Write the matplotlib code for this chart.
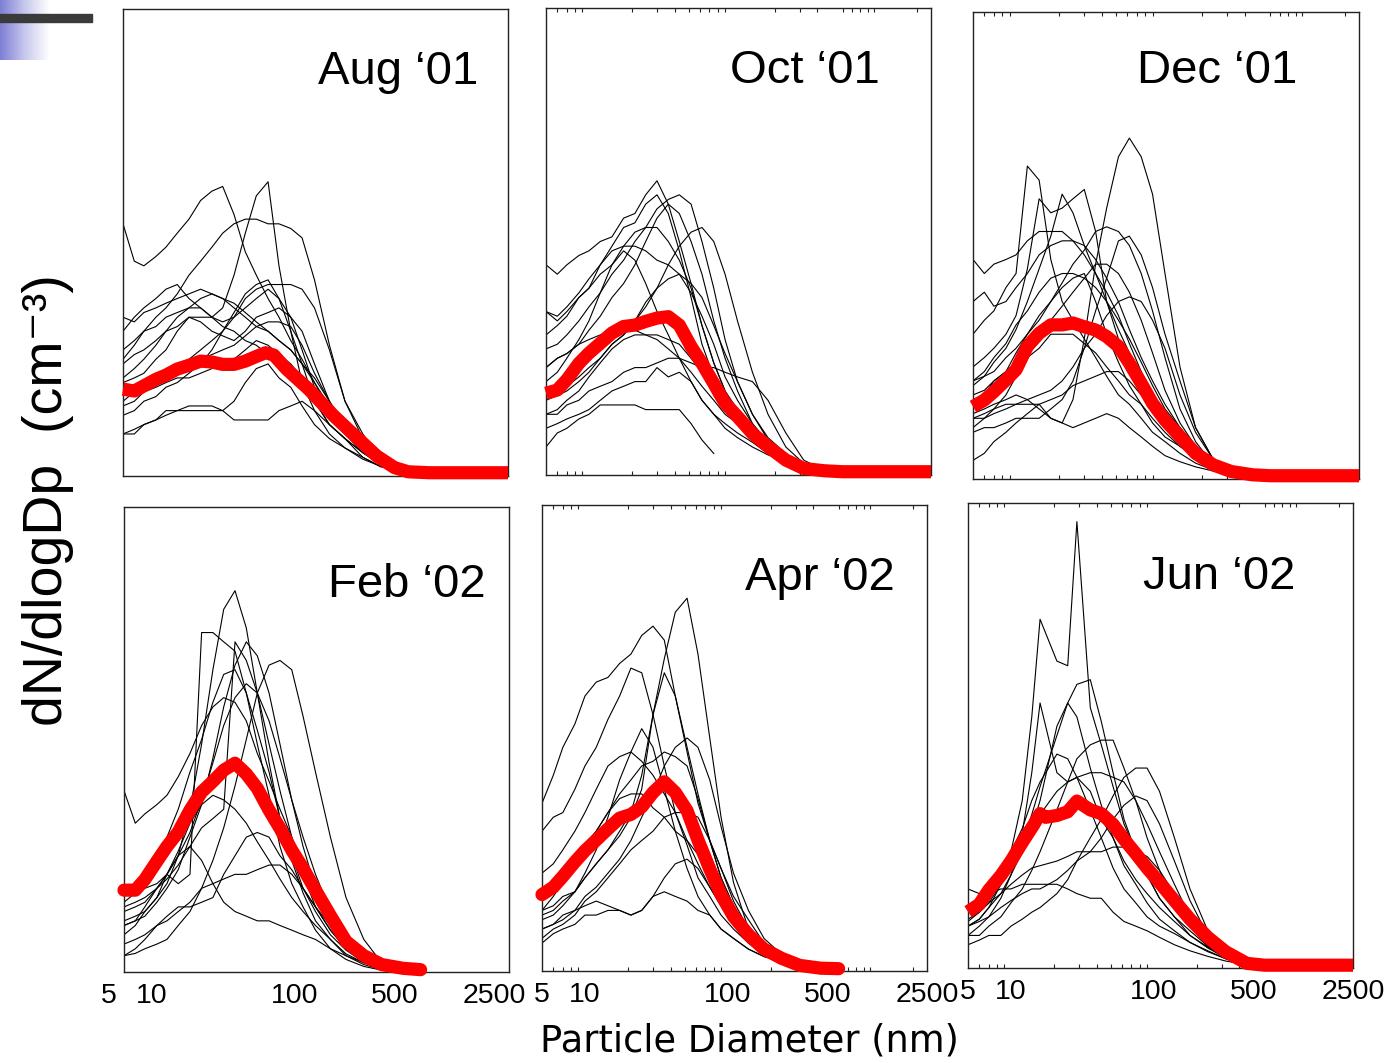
import numpy as np
import matplotlib.pyplot as plt
from matplotlib.patches import Rectangle
from matplotlib.ticker import LogLocator, NullFormatter, FixedLocator
from matplotlib.transforms import ScaledTranslation

# particle diameter bins (nm) of the single scans
d_bins = [5, 6, 7, 8.5, 10, 12, 14.5, 17.5, 21, 25, 30, 36, 43, 52, 62, 75, 90, 110, 140, 180, 240, 320, 450]
d_bins_jun = [5, 6, 7, 8.5, 10, 12, 14, 16, 21, 25, 29, 36, 43, 52, 62, 75, 90, 110, 140, 180, 240, 320, 450]

# ---- Aug '01
aug_scans = [
    [54, 46, 45, 47, 49, 52, 55, 59, 61, 62, 56, 48, 43, 38, 34, 29, 25, 20, 14, 9, 6, 3, 1.4],
    [20, 21, 22, 25, 27, 31, 34, 34, 34, 36, 43, 52, 60, 63, 45, 31, 20, 14, 9, 6, 4, 2, 1.1],
    [25, 28, 31, 34, 36, 39, 43, 46, 49, 52, 54, 55, 55, 54, 54, 53, 51, 42, 28, 16, 8, 3, 1.3],
    [31, 34, 36, 38, 40, 41, 38, 36, 34, 33, 34, 36, 38, 40, 38, 34, 27, 19, 13, 9, 5, 2.5, 1.3],
    [16, 18, 19, 21, 22, 24, 25, 27, 29, 31, 35, 39, 41, 42, 38, 31, 24, 16, 11, 8, 4, 2, 1.1],
    [13, 14, 16, 17, 19, 20, 22, 24, 27, 31, 34, 38, 40, 41, 41, 41, 40, 36, 27, 16, 9, 3.6, 1.4],
    [9, 10, 11, 12, 13, 14, 14, 14, 14, 14, 12, 12, 12, 12, 14, 15, 16, 14, 11, 8, 5, 2.5, 1.3],
    [9, 9, 11, 12, 14, 14, 15, 15, 15, 14, 16, 20, 23, 24, 21, 19, 15, 11, 8, 6, 3.6, 2.1, 1.1],
    [27, 29, 31, 32, 34, 35, 36, 36, 34, 32, 31, 29, 28, 26, 25, 23, 20, 16, 11, 8, 5, 2.5, 1.3],
    [24, 26, 27, 29, 31, 32, 34, 33, 31, 30, 29, 31, 34, 35, 36, 34, 31, 24, 16, 10, 6, 2.7, 1.3],
    [15, 16, 18, 19, 20, 21, 21, 22, 23, 24, 25, 27, 29, 28, 26, 24, 21, 18, 14, 9, 6, 2.9, 1.4],
    [21, 23, 25, 28, 31, 34, 36, 38, 39, 38, 36, 34, 32, 31, 29, 27, 24, 20, 15, 10, 6, 3, 1.4],
    [34, 33, 35, 36, 37, 38, 39, 40, 39, 38, 37, 35, 33, 31, 29, 27, 24, 21, 16, 11, 6, 3, 1.4],
    [19, 19, 20, 21, 22, 23, 24, 25, 26, 27, 28, 30, 32, 33, 33, 32, 28, 22, 16, 10, 6, 3, 1.4],
]
aug_mean_d = [5, 6, 7, 8.5, 10, 12, 14.5, 17.5, 21, 25, 30, 36, 43, 50, 57, 70, 100, 150, 200, 300, 400, 500, 700, 1000, 2500]
aug_mean = [18.6, 18.2, 19.3, 20.7, 21.6, 22.9, 23.7, 24.6, 24.4, 23.9, 23.9, 24.6, 25.6, 26.4, 25.9, 22.9, 18.6, 12.9, 9.3, 4.3, 1.8, 0.9, 0.7, 0.7, 0.7]

# ---- Oct '01
oct_scans = [
    [45, 43, 45, 47, 48, 50, 51, 55, 56, 60, 63, 58, 50, 41, 32, 24, 18, 14, 10, 6, 3.2, 1.4, 0.7],
    [27, 28, 30, 33, 36, 39, 43, 46, 50, 53, 57, 59, 60, 58, 50, 40, 29, 20, 13, 7.5, 3.9, 1.8, 0.8],
    [16, 18, 19, 21, 23, 25, 28, 30, 33, 37, 40, 45, 49, 52, 53, 50, 43, 33, 22, 13, 6, 2.5, 0.9],
    [30, 32, 34, 38, 40, 45, 49, 53, 54, 58, 60, 56, 48, 38, 28, 21, 16, 13, 9, 6, 3.6, 1.8, 0.8],
    [23, 25, 26, 28, 31, 34, 38, 41, 45, 50, 55, 58, 56, 50, 43, 33, 25, 18, 11, 7, 3.9, 1.8, 0.8],
    [35, 34, 36, 39, 42, 45, 48, 49, 49, 48, 46, 45, 43, 39, 34, 28, 21, 16, 11, 7, 3.9, 1.8, 0.8],
    [16, 17, 18, 20, 22, 25, 28, 30, 33, 36, 40, 42, 43, 41, 38, 32, 26, 20, 13, 8, 4.6, 2.1, 0.9],
    [20, 22, 25, 29, 33, 39, 45, 48, 46, 41, 35, 30, 25, 20, 16, 13, 11, 9, 7, 4.6, 2.9, 1.4, 0.7],
    [6, 9, 10, 12, 13, 15, 15, 15, 15, 14, 14, 14, 14, 11, 7.5, 4.6],
    [10, 11, 12, 13, 14, 16, 18, 19, 20, 20, 23, 21, 22, 20, 16, 13, 10, 8, 6, 4.3, 2.9, 1.4, 0.7],
    [23, 25, 26, 28, 29, 30, 31, 32, 31, 30, 30, 29, 28, 25, 22, 19, 16, 13, 10, 7, 3.9, 1.8, 0.8],
    [13, 13, 15, 16, 18, 19, 20, 22, 23, 23, 24, 25, 25, 24, 23, 23, 22, 21, 20, 16, 9, 3.2, 0.9],
    [35, 33, 35, 38, 40, 43, 45, 49, 52, 53, 53, 50, 46, 40, 32, 24, 18, 13, 9, 6, 3.6, 1.8, 0.8],
    [13, 14, 16, 18, 21, 24, 27, 29, 30, 30, 29, 27, 25, 22, 19, 16, 13, 11, 8, 6, 3.4, 1.6, 0.8],
]
oct_mean_d = [5, 6, 7, 8.5, 10, 12, 14.5, 17.5, 21, 25, 30, 36, 43, 52, 62, 75, 82, 90, 110, 140, 180, 240, 320, 450, 600, 1000, 2500]
oct_mean = [17.5, 18.2, 20.4, 23.9, 26.1, 28.2, 30.4, 31.8, 32.1, 32.9, 33.6, 33.9, 32.1, 27.5, 23.9, 19.6, 17.5, 15.4, 12.5, 8.9, 6.1, 3.2, 1.4, 0.9, 0.7, 0.7, 0.7]

# ---- Dec '01
dec_scans = [
    [13, 13, 14, 15, 16, 16, 16, 13, 12, 17, 30, 46, 58, 69, 73, 69, 61, 44, 24, 11, 4.1, 1.2, 0.5],
    [31, 34, 36, 41, 44, 67, 64, 47, 38, 34, 30, 26, 22, 18, 16, 13, 10, 8, 5.5, 3.4, 1.9, 1.1, 0.6],
    [24, 26, 28, 31, 35, 45, 60, 57, 58, 60, 62, 53, 38, 30, 24, 19, 15, 11, 8, 5.5, 3, 1.4, 0.6],
    [21, 22, 23, 26, 28, 31, 34, 38, 42, 46, 49, 53, 54, 53, 50, 44, 36, 26, 15, 8, 3, 1.2, 0.6],
    [10, 11, 11, 12, 13, 13, 13, 15, 17, 21, 28, 36, 43, 51, 52, 48, 41, 31, 21, 11, 4.1, 1.4, 0.6],
    [47, 44, 46, 47, 48, 51, 53, 53, 53, 51, 48, 44, 40, 35, 29, 23, 18, 14, 10, 6, 3.4, 1.6, 0.7],
    [21, 23, 26, 29, 33, 36, 40, 43, 44, 44, 43, 41, 38, 34, 30, 25, 20, 15, 11, 7, 3.4, 1.6, 0.7],
    [14, 15, 16, 17, 18, 17, 15, 13, 12, 11, 12, 13, 14, 13, 11, 9, 7, 5, 3.7, 2.6, 1.7, 1.1, 0.6],
    [4, 5.5, 8, 10, 12, 14, 16, 17, 18, 20, 21, 22, 23, 23, 21, 18, 15, 11, 8, 5, 2.6, 1.4, 0.7],
    [13, 14, 15, 16, 16, 17, 18, 19, 21, 24, 28, 31, 35, 38, 39, 38, 34, 28, 18, 10, 4.1, 1.4, 0.6],
    [17, 18, 21, 23, 27, 31, 35, 38, 41, 43, 44, 38, 31, 25, 20, 16, 12, 9, 7, 4.4, 2.6, 1.4, 0.7],
    [11, 13, 15, 18, 22, 26, 28, 31, 31, 31, 29, 27, 24, 21, 18, 16, 13, 10, 7, 4.8, 2.8, 1.4, 0.7],
    [18, 19, 21, 23, 25, 28, 31, 34, 37, 40, 43, 46, 46, 44, 40, 34, 27, 19, 12, 7, 3.4, 1.4, 0.7],
    [38, 40, 37, 38, 41, 44, 48, 50, 51, 51, 50, 47, 43, 38, 32, 26, 21, 16, 11, 7, 3.4, 1.6, 0.7],
    [20, 22, 25, 28, 32, 38, 45, 52, 61, 57, 50, 44, 38, 32, 27, 22, 18, 14, 10, 6, 3.2, 1.5, 0.7],
]
dec_mean_d = [5, 6, 7, 8.5, 10, 12, 14.5, 17.5, 21, 25, 30, 36, 43, 52, 62, 75, 90, 110, 140, 180, 240, 320, 450, 600, 1000, 2500]
dec_mean = [15.5, 16.9, 18.7, 21.2, 23.4, 28.4, 31.2, 33, 33, 33.4, 32.6, 31.9, 30.5, 28.4, 24.8, 20.5, 16.2, 12.6, 9.1, 5.5, 3, 1.6, 0.9, 0.7, 0.7, 0.7]

# ---- Feb '02
feb_scans = [
    [11, 12, 13, 16, 19, 25, 35, 49, 65, 78, 82, 74, 60, 45, 33, 24, 17, 11, 7, 3.5, 1.6, 0.5, 0.2],
    [15, 17, 18, 19, 21, 19, 21, 73, 73, 71, 69, 60, 49, 38, 27, 19, 14, 9, 5, 2.7, 1.2, 0.4, 0.2],
    [3.5, 4, 5, 6, 7, 10, 13, 18, 24, 31, 40, 50, 60, 66, 67, 65, 55, 43, 29, 16, 7, 2, 0.4],
    [14, 15, 16, 18, 20, 23, 27, 31, 33, 35, 71, 67, 60, 49, 39, 29, 21, 14, 9, 5, 2.3, 0.8, 0.2],
    [10, 11, 12, 15, 18, 22, 29, 36, 46, 57, 66, 71, 68, 60, 49, 37, 27, 18, 11, 6, 2.7, 1, 0.2],
    [18, 18, 21, 24, 29, 35, 43, 50, 58, 64, 65, 60, 52, 43, 33, 25, 18, 13, 8, 4.7, 2.1, 0.8, 0.2],
    [39, 32, 34, 36, 38, 42, 47, 53, 57, 59, 58, 54, 47, 41, 35, 29, 22, 16, 11, 6, 2.7, 1, 0.2],
    [3.5, 5, 7, 10, 12, 14, 14, 15, 16, 21, 25, 29, 30, 29, 25, 22, 18, 14, 9, 5, 2.3, 0.9, 0.2],
    [10, 11, 14, 18, 21, 25, 27, 24, 19, 15, 13, 12, 11, 11, 10, 9, 8, 7, 5, 3.5, 2, 0.8, 0.2],
    [6, 7, 8, 10, 11, 13, 15, 18, 19, 20, 21, 21, 22, 23, 23, 21, 18, 14, 10, 5, 2.3, 0.9, 0.2],
    [13, 14, 15, 18, 21, 25, 30, 37, 45, 53, 59, 62, 60, 54, 46, 37, 29, 21, 13, 7, 2.9, 1, 0.2],
    [8, 10, 13, 16, 21, 26, 32, 36, 38, 37, 35, 32, 28, 24, 20, 16, 13, 10, 7, 3.9, 2, 0.8, 0.2],
]
feb_mean_d = [5, 6, 7, 8.5, 10, 12, 14.5, 17.5, 21, 25, 30, 36, 43, 52, 62, 75, 90, 110, 140, 180, 240, 320, 450, 600]
feb_mean = [17.6, 17.6, 19.9, 23.8, 27, 30.1, 34.8, 38.7, 41, 43.4, 44.9, 42.6, 39.5, 34.8, 30.9, 26.2, 22.3, 17.6, 12.1, 6.6, 3.5, 1.6, 0.8, 0.5]

# ---- Apr '02
apr_scans = [
    [12, 13, 15, 17, 20, 23, 26, 30, 34, 42, 55, 67, 77, 80, 68, 50, 33, 19, 9, 4.7, 2.3, 1.2, 0.6],
    [36, 42, 48, 53, 59, 62, 63, 66, 68, 72, 74, 71, 59, 47, 36, 28, 22, 16, 11, 6, 3.1, 1.4, 0.6],
    [30, 33, 34, 39, 44, 48, 54, 59, 65, 64, 55, 44, 34, 27, 20, 16, 12, 9, 6, 3.9, 2.3, 1.2, 0.6],
    [13, 14, 16, 17, 20, 23, 26, 29, 33, 39, 55, 64, 59, 48, 38, 28, 20, 14, 9, 5, 2.7, 1.3, 0.6],
    [9, 10, 11, 13, 16, 18, 21, 24, 28, 33, 38, 44, 48, 50, 48, 41, 31, 21, 13, 7, 3.5, 1.6, 0.7],
    [17, 18, 20, 23, 27, 30, 34, 38, 41, 44, 45, 47, 46, 44, 37, 28, 20, 14, 9, 5, 2.7, 1.3, 0.6],
    [6, 8, 9, 10, 12, 12, 13, 13, 12, 13, 16, 17, 16, 15, 13, 12, 9, 7, 4.7, 3.1, 2, 1.2, 0.6],
    [9, 10, 12, 13, 14, 15, 14, 13, 12, 13, 16, 20, 23, 24, 22, 18, 14, 10, 6, 3.5, 2, 1.2, 0.6],
    [21, 23, 26, 30, 34, 39, 44, 46, 47, 45, 42, 38, 34, 28, 23, 18, 14, 10, 7, 4.5, 2.6, 1.3, 0.6],
    [13, 16, 19, 23, 27, 30, 34, 37, 38, 38, 35, 33, 30, 28, 25, 21, 17, 12, 8, 4.8, 2.7, 1.3, 0.6],
    [11, 12, 14, 17, 21, 26, 33, 41, 47, 52, 48, 39, 30, 22, 16, 12, 9, 7, 4.7, 3.1, 2, 1.2, 0.6],
    [7, 9, 10, 12, 15, 17, 20, 23, 26, 28, 30, 33, 34, 34, 33, 28, 22, 15, 9, 4.8, 2.7, 1.3, 0.6],
]
apr_mean_d = [5, 6, 7, 8.5, 10, 12, 14.5, 17.5, 21, 25, 30, 36, 43, 52, 62, 75, 90, 110, 140, 180, 240, 320, 450, 600]
apr_mean = [16.4, 18, 20.3, 23.4, 25.8, 28.1, 30.5, 32.8, 33.6, 35.2, 38.3, 40.6, 38.3, 34.4, 28.1, 21.9, 16.4, 11.7, 7.8, 4.7, 2.7, 1.2, 0.6, 0.5]

# ---- Jun '02
jun_scans = [
    [9, 10.5, 13, 18, 25, 36, 54, 75, 66, 65, 96, 56, 48, 39, 31, 25, 20, 15, 11, 8, 4.7, 2.3, 0.8],
    [7, 9, 11, 15, 20, 29, 42, 57, 42, 40, 41, 38, 32, 28, 23, 19, 16, 13, 10, 7, 4.3, 2.2, 0.8],
    [10, 12, 14, 18, 21, 27, 33, 39, 50, 57, 61, 62, 53, 42, 32, 25, 20, 15, 11, 7, 4.5, 2.1, 0.8],
    [9, 10.5, 13, 16, 20, 25, 30, 36, 52, 57, 54, 43, 35, 28, 22, 18, 14, 10.5, 8, 5.5, 3.5, 2, 0.8],
    [7, 7, 9, 11, 14, 17, 21, 25, 34, 40, 45, 48, 49, 49, 43, 36, 28, 21, 14.5, 9, 4.7, 2, 0.8],
    [5, 6, 7, 7, 9, 10.5, 12, 13, 16, 19, 23, 28, 32, 37, 41, 43, 43, 38, 28, 17, 8, 3.1, 0.8],
    [13, 14.5, 17, 20, 23, 27, 30, 33, 38, 40, 41, 42, 42, 41, 40, 36, 31, 25, 18, 11, 6, 2.7, 0.8],
    [17, 16, 16, 17, 17, 18, 18, 18, 18, 17, 16, 15, 15, 12, 10, 9, 8, 6.6, 5, 3.7, 2.5, 1.5, 0.7],
    [9, 10, 11, 13, 14.5, 16, 17, 17, 19, 21, 23, 25, 28, 32, 35, 37, 36, 31, 23, 14.5, 7, 2.7, 0.8],
    [13, 14.5, 17, 20, 25, 30, 36, 40, 46, 45, 41, 34, 28, 21.5, 17, 14, 11, 9, 7.4, 5.5, 3.7, 2, 0.8],
    [10.5, 12, 14, 16, 18, 20, 21.5, 22, 23, 24, 25, 25, 25, 26, 26, 25, 24, 21, 16, 10.5, 6, 2.4, 0.8],
]
jun_mean_d = [5, 6, 7, 8.5, 10, 12, 14.5, 16, 17.5, 21, 25, 29, 36, 43, 52, 62, 75, 90, 110, 140, 180, 240, 320, 450, 600, 1000, 2500]
jun_mean = [12.1, 13.7, 16.8, 19.9, 23, 27, 30.9, 33.2, 32.4, 32.8, 33.6, 35.9, 34, 33.2, 30.9, 27.7, 24.6, 21.5, 18.4, 14.5, 10.5, 6.6, 3.5, 1, 0.6, 0.6, 0.6]

titles = ['Aug \u201801', 'Oct \u201801', 'Dec \u201801', 'Feb \u201802', 'Apr \u201802', 'Jun \u201802']
tick_vals = [5, 10, 100, 500, 2500]
tick_text = ['5', '10', '100', '500', '2500']

panels = [
    (d_bins, aug_scans, aug_mean_d, aug_mean),
    (d_bins, oct_scans, oct_mean_d, oct_mean),
    (d_bins, dec_scans, dec_mean_d, dec_mean),
    (d_bins, feb_scans, feb_mean_d, feb_mean),
    (d_bins, apr_scans, apr_mean_d, apr_mean),
    (d_bins_jun, jun_scans, jun_mean_d, jun_mean),
]

# layout in pixels: box (left, top, right, bottom), title (right end, baseline)
W, H = 1391, 1063
boxes = [(123, 9, 508, 476), (546, 8, 931, 475), (973, 12, 1359, 479),
         (124, 507, 509, 972), (542, 505, 927, 971), (968, 503, 1353, 968)]
title_pos = [(478, 84), (880, 83), (1297, 83), (486, 597), (895, 590), (1295, 589)]
with_ticks = [False, True, True, False, True, True]

fig = plt.figure(figsize=(W / 100, H / 100), dpi=100)

for i, (d, scans, md, mean) in enumerate(panels):
    l, t, r, b = boxes[i]
    ax = fig.add_axes([l / W, 1 - b / H, (r - l) / W, (b - t) / H])
    for s in scans:
        ax.plot(d[:len(s)], s, color='black', lw=0.8)
    cap = 'round' if md[-1] < 2500 else 'butt'
    ax.plot(md, mean, color='#ff0000', lw=9.5, solid_capstyle=cap,
            solid_joinstyle='round', clip_on=False, zorder=3)
    ax.set_xscale('log')
    ax.set_xlim(5, 2500)
    ax.set_ylim(0, 100)
    ax.set_yticks([])
    for sp in ax.spines.values():
        sp.set_linewidth(1.0)
        sp.set_color('#222222')

    # labels on fixed positions, marks on the usual log positions
    ax.xaxis.set_major_locator(FixedLocator(tick_vals))
    ax.set_xticklabels(tick_text)
    ax.xaxis.set_minor_locator(LogLocator(base=10, subs=np.arange(1, 10)))
    ax.xaxis.set_minor_formatter(NullFormatter())
    ax.tick_params(axis='x', which='major', length=0, pad=8,
                   labelsize=20.5, labelbottom=(i >= 3))
    ax.tick_params(axis='x', which='minor', direction='in', top=True,
                   length=3 if with_ticks[i] else 0, width=0.8, color='#222222')
    for lab in ax.get_xticklabels():
        lab.set_fontfamily('Liberation Sans')
        if i == 3:
            lab.set_transform(lab.get_transform() + ScaledTranslation(-0.15, 0, fig.dpi_scale_trans))

    tx, ty = title_pos[i]
    fig.text(tx / W, 1 - ty / H, titles[i], ha='right', va='baseline',
             fontsize=34, family='Liberation Sans')

fig.text(749 / W, 1 - 1052 / H, 'Particle Diameter (nm)', ha='center', va='baseline',
         fontsize=26.5, family='DejaVu Sans')
fig.text(48 / W, 1 - 500 / H, 'dN/dlogDp  (cm\u207b\u00b3)', ha='center', va='center',
         rotation=90, fontsize=40, family=['Liberation Sans', 'DejaVu Sans'])

# slide ornament in the top left corner
orn = fig.add_axes([0, 1 - 60 / H, 50 / W, 60 / H])
grad = np.linspace(0, 1, 64)[None, :]
orn.imshow(grad, aspect='auto', cmap=plt.matplotlib.colors.LinearSegmentedColormap.from_list(
    'fade', ['#7f7fd6', '#c8c8ee', '#ffffff']))
orn.axis('off')
fig.add_artist(Rectangle((0, 1 - 22 / H), 92 / W, 8 / H, transform=fig.transFigure,
                         color='#3a3a3a', zorder=5))

fig.savefig('out.png', dpi=100)
